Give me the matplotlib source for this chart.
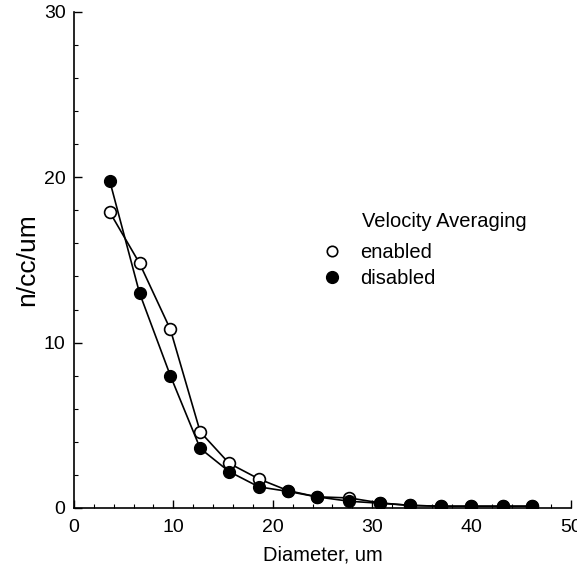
import matplotlib
matplotlib.use('Agg')
import matplotlib.pyplot as plt
from matplotlib.lines import Line2D

plt.rcParams['font.family'] = ['Liberation Sans', 'DejaVu Sans']

# 粒径分布数据
diameter = [3.6, 6.6, 9.7, 12.7, 15.6, 18.6, 21.5, 24.4, 27.7, 30.8, 33.8, 36.9, 39.9, 43.1, 46.1]
enabled = [17.9, 14.8, 10.8, 4.6, 2.7, 1.75, 1.05, 0.67, 0.6, 0.3, 0.15, 0.1, 0.1, 0.1, 0.1]
disabled = [19.8, 13.0, 8.0, 3.6, 2.2, 1.27, 1.0, 0.67, 0.4, 0.28, 0.15, 0.1, 0.1, 0.1, 0.1]

fig = plt.figure(figsize=(5.77, 5.70), dpi=100)
ax = fig.add_axes([0.128, 0.109, 0.862, 0.870])

ax.plot(diameter, enabled, color='black', lw=1.2, marker='o', ms=8.5,
        mfc='white', mec='black', mew=1.2, zorder=3)
ax.plot(diameter, disabled, color='black', lw=1.2, marker='o', ms=8.5,
        mfc='black', mec='black', zorder=3)

ax.set_xlim(0, 50)
ax.set_ylim(0, 30)
ax.set_xticks([0, 10, 20, 30, 40, 50])
ax.set_xticks(range(0, 51, 2), minor=True)
ax.set_yticks([0, 10, 20, 30])
ax.set_yticks(range(0, 31, 2), minor=True)
ax.tick_params(direction='in', length=6, width=1, labelsize=14)
ax.tick_params(axis='x', pad=8)
ax.tick_params(axis='y', pad=6)
ax.tick_params(which='minor', direction='in', length=3, width=0.8)
for s in ['top', 'right']:
    ax.spines[s].set_visible(False)
for s in ['left', 'bottom']:
    ax.spines[s].set_linewidth(1.2)

ax.set_xlabel('Diameter, um', fontsize=14.5, labelpad=7)
ax.set_ylabel('n/cc/um', fontsize=19, labelpad=3)

# 图例
ax.text(0.579, 0.567, 'Velocity Averaging', transform=ax.transAxes,
        fontsize=14.5, va='baseline', ha='left')
handles = [
    Line2D([], [], ls='none', marker='o', ms=7.5, mfc='white', mec='black', mew=1.2),
    Line2D([], [], ls='none', marker='o', ms=8.5, mfc='black', mec='black'),
]
ax.legend(handles, ['enabled', 'disabled'], loc='center left',
          bbox_to_anchor=(0.499, 0.488), frameon=False, fontsize=14.5,
          handlelength=1.0, handletextpad=0.9, labelspacing=0.35,
          borderpad=0, borderaxespad=0)

fig.savefig('out.png', dpi=100)
